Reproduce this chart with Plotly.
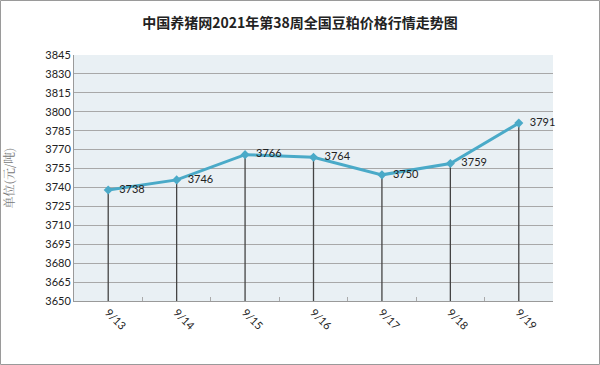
import plotly.graph_objects as go

dates = ["9/13", "9/14", "9/15", "9/16", "9/17", "9/18", "9/19"]
prices = [3738, 3746, 3766, 3764, 3750, 3759, 3791]
y_min, y_max, y_step = 3650, 3845, 15
title = "中国养猪网2021年第38周全国豆粕价格行情走势图"
y_title = "单位(元/吨)"

ML, MR, MT, MB = 74, 47, 55, 64
W, H = 600, 365
pw, ph = W - ML - MR, H - MT - MB

fig = go.Figure()
fig.add_trace(go.Scatter(
    x=dates, y=prices, mode="lines+markers+text",
    line=dict(color="#4aaac8", width=3),
    marker=dict(symbol="diamond", size=7, color="#4aaac8"),
    text=["  " + str(v) for v in prices], textposition="middle right",
    textfont=dict(family="Lato, Open Sans, sans-serif", size=11, color="#222"),
    error_y=dict(type="data", symmetric=False, array=[0]*len(prices),
                 arrayminus=[v - y_min for v in prices], width=0,
                 thickness=1.3, color="#444"),
    cliponaxis=False, showlegend=False, hoverinfo="skip",
))

fig.update_layout(
    width=W, height=H,
    margin=dict(l=ML, r=MR, t=MT, b=MB, autoexpand=False),
    paper_bgcolor="white", plot_bgcolor="#e9f0f4",
    title=dict(text="<b>" + title + "</b>", x=0.5, xanchor="center", y=1 - 23/H, yanchor="middle",
               font=dict(family="Noto Sans CJK SC", size=14, color="#222")),
    xaxis=dict(type="category", range=[-0.5, 6.5], showgrid=False, automargin=False,
               tickangle=45, tickfont=dict(family="Lato, sans-serif", size=11, color="#222"),
               showline=True, linecolor="#9a9a9a", linewidth=1,
               ticks="inside", tickson="boundaries", ticklen=4, tickcolor="#aaaaaa",
               zeroline=False),
    yaxis=dict(range=[y_min, y_max], tick0=y_min, dtick=y_step, showgrid=True, automargin=False,
               gridcolor="#a8a8a8", gridwidth=1,
               tickfont=dict(family="Lato, sans-serif", size=11, color="#222"),
               showline=True, linecolor="#9a9a9a", linewidth=1, ticks="",
               zeroline=False,
               title=dict(text=y_title, standoff=31,
                          font=dict(family="Noto Serif CJK SC, Noto Sans CJK SC", size=12, color="#777"))),
    shapes=[dict(type="rect", xref="paper", yref="paper",
                 x0=-(ML - 0.5)/pw, x1=1 + (MR - 0.5)/pw,
                 y0=-(MB - 0.5)/ph, y1=1 + (MT - 0.5)/ph,
                 line=dict(color="#9a9a9a", width=1))],
)
fig.write_html("out.html", config={"displayModeBar": False},
               post_script="document.body.style.margin='0';document.body.style.padding='0';")
